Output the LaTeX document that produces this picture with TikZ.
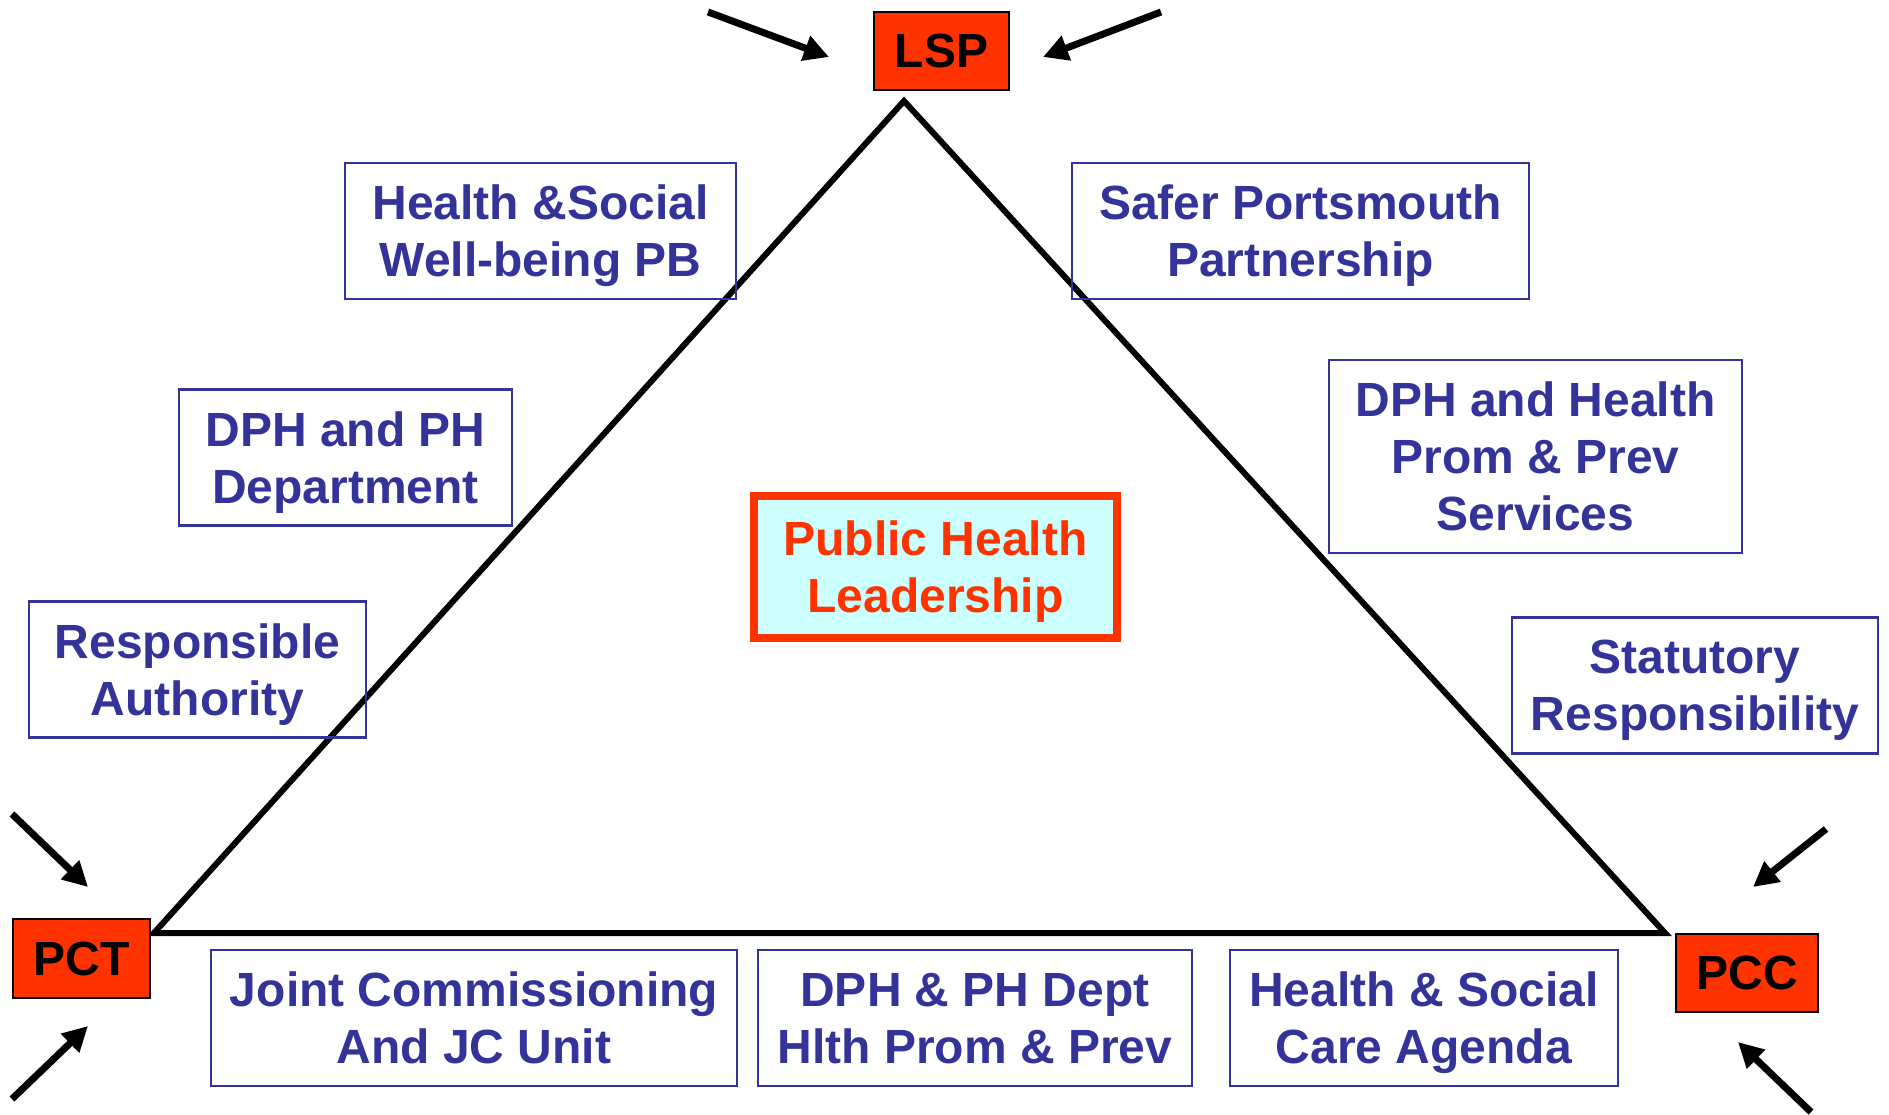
\documentclass[tikz,border=0pt]{standalone}
\usepackage{fontspec}
\setmainfont{Liberation Sans}
\usetikzlibrary{arrows.meta}
\definecolor{navy}{RGB}{51,51,153}
\definecolor{flame}{RGB}{255,51,0}
\definecolor{ice}{RGB}{204,255,255}

\begin{document}
\begin{tikzpicture}[x=1pt,y=-1pt]
    \def\bh{136pt}
    \def\by{1018}

    \tikzstyle{role}=[draw=navy,line width=2.5pt,text=navy,font=\fontsize{48}{57}\selectfont\bfseries,align=center,inner sep=0pt,text depth=0pt,minimum height=\bh]
    \tikzstyle{agency}=[draw=black,line width=2pt,fill=flame,text=black,font=\fontsize{48}{57}\selectfont\bfseries,inner sep=0pt,text depth=0pt]
    \tikzstyle{lead}=[draw=flame,line width=8pt,fill=ice,text=flame,font=\fontsize{48}{57}\selectfont\bfseries,align=center,inner sep=0pt,text depth=0pt,minimum width=363pt,minimum height=142pt]
    \tikzstyle{push}=[line width=7pt,-{Triangle[length=25pt,width=25pt]}]
    \tikzstyle{tri}=[line width=6pt,draw=black]

    \useasboundingbox (0,0) rectangle (1889,1115);

    % triangle
    \coordinate (apex) at (904,101);
    \coordinate (left) at (154,933);
    \coordinate (right) at (1665,933);
    \draw [tri] (apex) -- (left) -- (right) -- cycle;

    \node[lead] (phl) at (935.5,567) {Public Health\\Leadership};

    \node[agency,minimum width=135pt,minimum height=78pt] (lsp) at (941.5,51) {LSP};
    \node[agency,minimum width=137pt,minimum height=79pt] (pct) at (81.5,958.5) {PCT};
    \node[agency,minimum width=142pt,minimum height=78pt] (pcc) at (1747,973) {PCC};

    \node[role,minimum width=391pt] (hswb) at (540.5,231) {Health \&Social\\Well-being PB};
    \node[role,minimum width=457pt] (spp) at (1300.5,231) {Safer Portsmouth\\Partnership};
    \node[role,minimum width=333pt] (dphd) at (345.5,457.5) {DPH and PH\\Department};
    \node[role,minimum width=413pt,minimum height=193pt] (dphs) at (1535.5,456.5) {DPH and Health\\Prom \& Prev\\Services};
    \node[role,minimum width=337pt] (resp) at (197.5,669.5) {Responsible\\Authority};
    \node[role,minimum width=366pt] (stat) at (1695,685.5) {Statutory\\Responsibility};

    \node[role,minimum width=526pt] (jcu) at (474,\by) {Joint Commissioning\\And JC Unit};
    \node[role,minimum width=434pt] (dphp) at (975,\by) {DPH \& PH Dept\\Hlth Prom \& Prev};
    \node[role,minimum width=388pt] (hsca) at (1424,\by) {Health \& Social\\Care Agenda};

    % arrows into the corners
    \coordinate (lspa) at (708,12);
    \coordinate (lspb) at (829,57);
    \coordinate (lspc) at (1161,12);
    \coordinate (lspd) at (1043,57);
    \coordinate (pcta) at (12,814);
    \coordinate (pctb) at (88,887);
    \coordinate (pctc) at (12,1099);
    \coordinate (pctd) at (88,1026);
    \coordinate (pcca) at (1826,829);
    \coordinate (pccb) at (1753,887);
    \coordinate (pccc) at (1811,1112);
    \coordinate (pccd) at (1738,1042);

    \draw [push] (lspa) -- (lspb);
    \draw [push] (lspc) -- (lspd);
    \draw [push] (pcta) -- (pctb);
    \draw [push] (pctc) -- (pctd);
    \draw [push] (pcca) -- (pccb);
    \draw [push] (pccc) -- (pccd);

\end{tikzpicture}
\end{document}
